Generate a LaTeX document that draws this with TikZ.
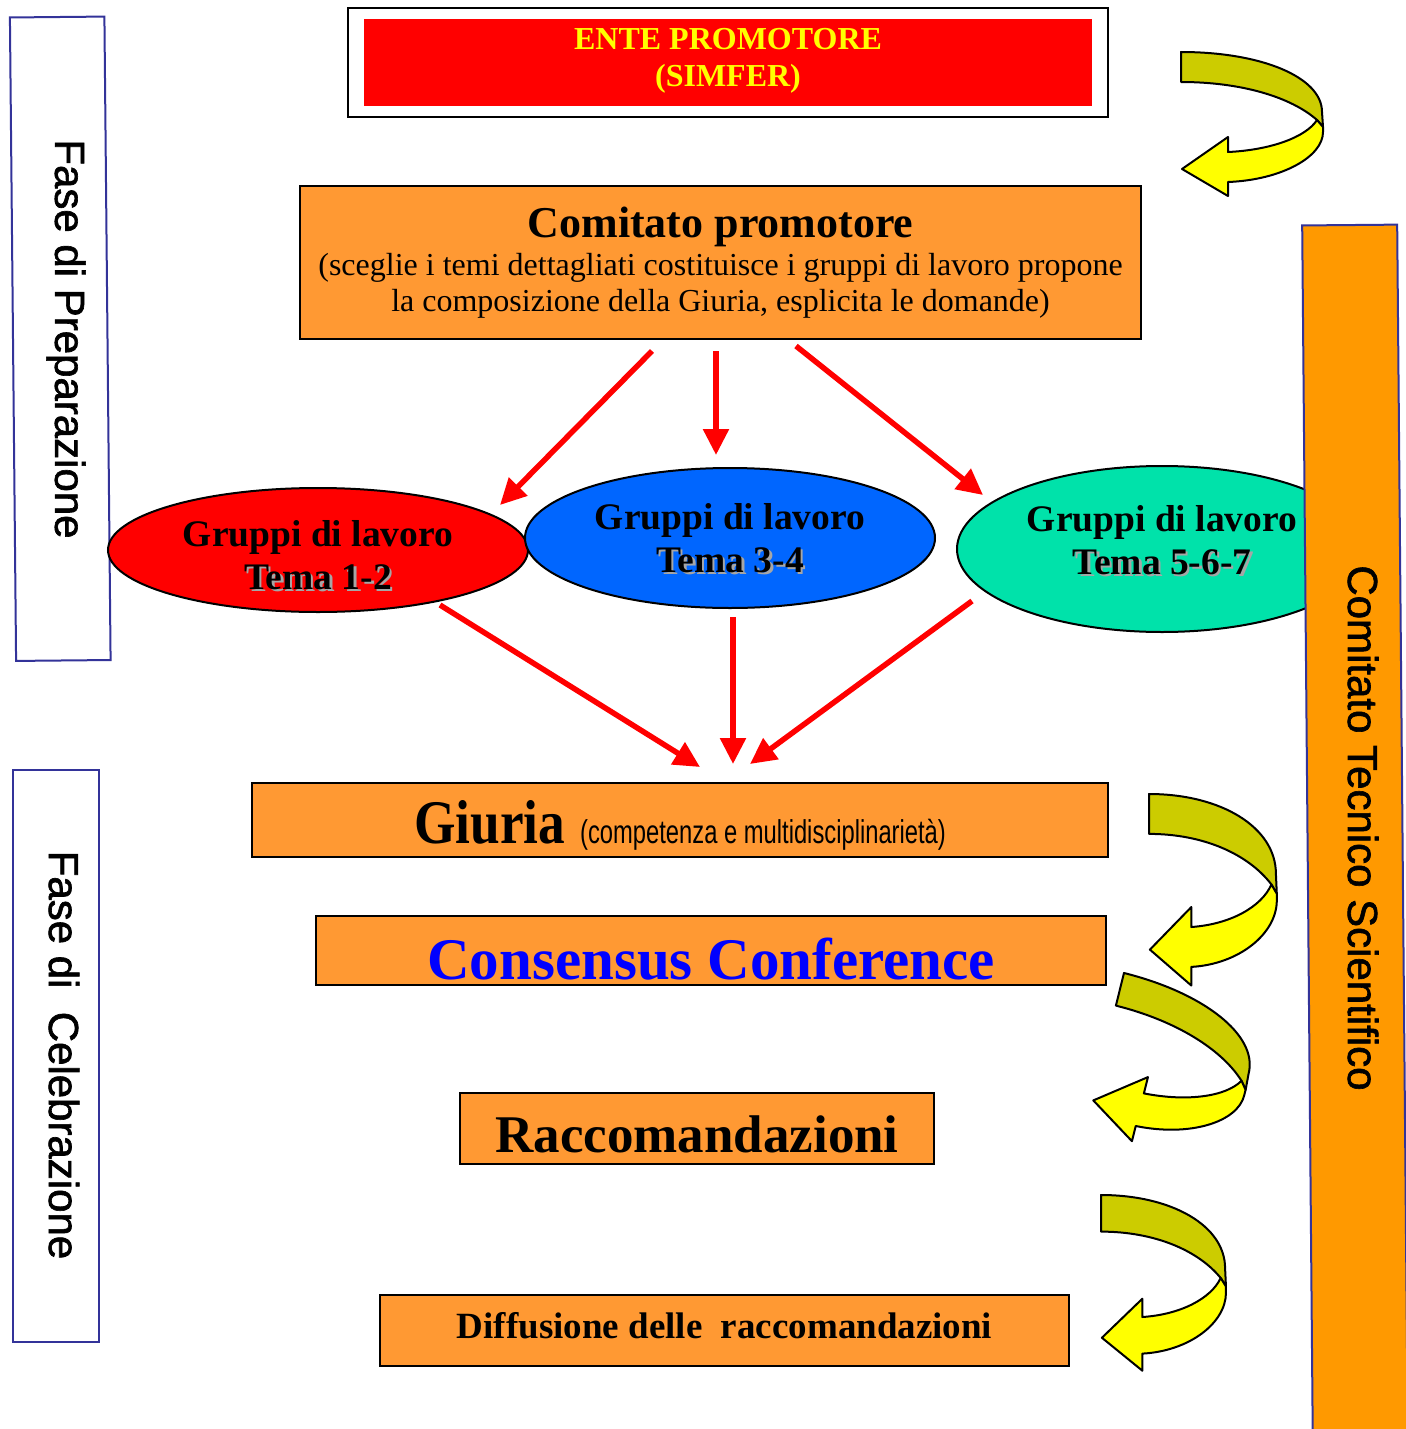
\documentclass[tikz,border=0pt]{standalone}
\usepackage{fontspec}
\setmainfont{Liberation Serif}
\setsansfont{Liberation Sans}
\newfontfamily\narrowsans[FakeStretch=0.72]{Liberation Sans}
\newfontfamily\narrowserif[FakeStretch=0.86]{Liberation Serif}
\newfontfamily\heavysans[FakeBold=1.5]{Liberation Sans}
\usetikzlibrary{shapes.geometric,arrows.meta}
\definecolor{boxorange}{RGB}{255,153,51}
\definecolor{ctsorange}{RGB}{255,153,0}
\definecolor{sideblue}{RGB}{51,51,153}
\definecolor{ellred}{RGB}{255,0,0}
\definecolor{ellblue}{RGB}{0,102,255}
\definecolor{ellgreen}{RGB}{0,226,170}
\definecolor{arrowred}{RGB}{255,0,0}
\definecolor{banddark}{RGB}{204,204,0}
\definecolor{bandlight}{RGB}{255,255,0}
\definecolor{confblue}{RGB}{0,0,255}

% grey copy behind the text, a little lower and to the right
\newcommand{\shtext}[1]{\makebox[0pt][l]{\hspace{2.5pt}\raisebox{-2.5pt}{\textcolor{black!35}{#1}}}#1}

% twisted ribbon arrow: origin, xscale, yscale, rotation
\newcommand{\bentarrow}[4]{%
  \begin{scope}[shift={#1}, rotate=#4, xscale=#2, yscale=#3]
    \filldraw[bandtop] (0,0) .. controls (80,0) and (141,25) .. (141,60) -- (142,75)
      -- (136,68) .. controls (110,45) and (60,30) .. (0,30) -- cycle;
    \filldraw[bandbottom] (136,68) .. controls (125,85) and (90,98) .. (47,100)
      -- (47,85) -- (1,117) -- (47,144) -- (47,130)
      .. controls (100,128) and (142,105) .. (142,80) -- (142,75) -- cycle;
  \end{scope}}

\begin{document}
\begin{tikzpicture}[x=1pt,y=-1pt,
    obox/.style={draw=black, line width=2pt, fill=boxorange, inner sep=0pt, align=center},
    sidebox/.style={draw=sideblue, line width=2pt, inner sep=0pt},
    sidelabel/.style={rotate=-90, inner sep=0pt, font=\heavysans\fontsize{42}{44}\selectfont},
    gruppo/.style={ellipse, draw=black, line width=2pt, inner sep=0pt},
    gruppotext/.style={inner sep=0pt, align=center, font=\fontsize{37.5}{43}\selectfont\bfseries},
    redarrow/.style={draw=arrowred, line width=5.5pt, -{Triangle[length=26pt,width=25pt]}},
    bandtop/.style={fill=banddark, draw=black, line width=2pt, line join=round},
    bandbottom/.style={fill=bandlight, draw=black, line width=2pt, line join=round}]
  \useasboundingbox[fill=white] (0,0) rectangle (1405,1429);

  % Side panels
  \node[sidebox, rotate=0.55, minimum width=94.5pt, minimum height=643.5pt] (prep) at (60.25,338.75) {};
  \node[sidelabel] (prepLbl) at (66,339) {Fase di Preparazione};
  \node[sidebox, minimum width=86pt, minimum height=572pt] (celeb) at (55.5,1056) {};
  \node[sidelabel] (celebLbl) at (64,1055) {Fase di\ \ Celebrazione};

  % Ente promotore
  \node[draw=black, line width=2.5pt, fill=white, minimum width=760pt, minimum height=109pt] (ente) at (728,62.5) {};
  \node[fill=ellred, minimum width=728pt, minimum height=87pt, inner sep=0pt] (enteIn) at (728,62.5) {};
  \node[inner sep=0pt, align=center, text=bandlight, font=\fontsize{32}{37}\selectfont\bfseries] (enteLbl)
    at (728,60.5) {ENTE PROMOTORE\\(SIMFER)};

  % Comitato promotore
  \node[obox, minimum width=841pt, minimum height=153pt, font=\fontsize{32}{36}\selectfont] (cp) at (720.5,262.5)
    {{\fontsize{44}{44}\selectfont\bfseries Comitato promotore}\\[2pt]
     (sceglie i temi dettagliati costituisce i gruppi di lavoro propone\\
     la composizione della Giuria, esplicita le domande)};

  % Gruppi di lavoro
  \node[gruppo, fill=ellred, minimum width=420pt, minimum height=124pt] (g12) at (318,550) {};
  \node[gruppo, fill=ellblue, minimum width=410pt, minimum height=140pt] (g34) at (730,538) {};
  \node[gruppo, fill=ellgreen, minimum width=410pt, minimum height=166pt] (g567) at (1162,549) {};
  \node[gruppotext] (g12Lbl) at (318,556) {Gruppi di lavoro\\\shtext{Tema 1-2}};
  \node[gruppotext] (g34Lbl) at (730,539) {Gruppi di lavoro\\\shtext{Tema 3-4}};
  \node[gruppotext] (g567Lbl) at (1162,541) {Gruppi di lavoro\\\shtext{Tema 5-6-7}};

  % Celebrazione
  \node[obox, minimum width=856pt, minimum height=74pt, text height=46pt, text depth=0pt] (giuria) at (680,820)
    {{\narrowserif\fontsize{62}{62}\selectfont\bfseries Giuria}\hspace{15pt}{\narrowsans\fontsize{33}{33}\selectfont (competenza e multidisciplinarietà)}};
  \node[obox, minimum width=790pt, minimum height=69pt, text=confblue, text height=57pt, text depth=0pt,
    font=\fontsize{59}{59}\selectfont\bfseries] (cons) at (711,950.5) {Consensus Conference};
  \node[obox, minimum width=474pt, minimum height=71pt, text height=47pt, text depth=0pt,
    font=\fontsize{53}{53}\selectfont\bfseries] (racc) at (697,1128.5) {Raccomandazioni};
  \node[obox, minimum width=689pt, minimum height=71pt, text height=15pt, text depth=0pt,
    font=\fontsize{37}{37}\selectfont\bfseries] (diff) at (724.5,1330.5) {Diffusione delle\ \ raccomandazioni};

  % Comitato tecnico scientifico
  \node[sidebox, fill=ctsorange, rotate=0.5, minimum width=95pt, minimum height=1220pt] (cts) at (1355,835) {};
  \node[sidelabel] (ctsLbl) at (1363,828) {Comitato Tecnico Scientifico};

  % Red arrows
  \draw[redarrow] ([xshift=-68.5pt,yshift=-11pt]cp.south) -- ([xshift=182pt,yshift=45pt]g12.center);
  \draw[redarrow] ([xshift=-4.5pt,yshift=-11pt]cp.south) -- ([xshift=-14pt,yshift=83pt]g34.center);
  \draw[redarrow] ([xshift=75.5pt,yshift=-6pt]cp.south) -- ([xshift=-179pt,yshift=54pt]g567.center);
  \draw[redarrow] ([xshift=122pt,yshift=-55pt]g12.center) -- ([xshift=20pt,yshift=15pt]giuria.north);
  \draw[redarrow] ([xshift=3pt,yshift=-79pt]g34.center) -- ([xshift=53pt,yshift=18pt]giuria.north);
  \draw[redarrow] ([xshift=-190pt,yshift=-52pt]g567.center) -- ([xshift=70pt,yshift=18pt]giuria.north);

  % Yellow ribbons
  \bentarrow{(1181,52)}{1}{1}{0}
  \bentarrow{(1149,794)}{0.9}{1.33}{0}
  \bentarrow{(1124,973)}{1.03}{1.12}{-14}
  \bentarrow{(1101,1195)}{0.88}{1.22}{0}
\end{tikzpicture}
\end{document}
